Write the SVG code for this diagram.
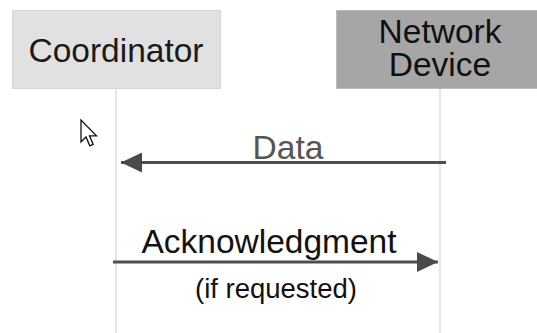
<svg xmlns="http://www.w3.org/2000/svg" width="537" height="333" viewBox="0 0 537 333">
<style>
text{font-family:"Liberation Sans",Arial,sans-serif;text-anchor:middle}
.lbl{font-size:33.5px}
.life{stroke:#d6d6d6;stroke-width:1.2;fill:none}
.msg{stroke:#4f4f4f;stroke-width:3;fill:none}
</style>
<defs>
<marker id="ah" viewBox="0 0 21 20" refX="21" refY="10" markerWidth="21" markerHeight="20" markerUnits="userSpaceOnUse" orient="auto">
<path d="M0,0 L21,10 L0,20 Z" fill="#4a4a4a"/>
</marker>
</defs>
<rect width="537" height="333" fill="#ffffff"/>
<g id="connectors">
<line class="life" x1="116" y1="89" x2="116" y2="333"/>
<line class="life" x1="440" y1="89" x2="440" y2="333"/>
<line id="data-msg" class="msg" x1="446" y1="162.5" x2="121" y2="162.5" marker-end="url(#ah)"/>
<line id="ack-msg" class="msg" x1="113" y1="262" x2="438" y2="262" marker-end="url(#ah)"/>
</g>
<g id="coordinator">
<rect x="12.5" y="10.5" width="208" height="78" fill="#e1e1e1" stroke="#d6d6d6"/>
<text class="lbl" x="116" y="62" fill="#1a1a1a">Coordinator</text>
</g>
<g id="network-device">
<rect x="336.5" y="10.5" width="203" height="78" fill="#a6a6a6" stroke="#bdbdbd"/>
<text class="lbl" fill="#111111"><tspan x="440" y="43">Network</tspan><tspan x="440" y="76">Device</tspan></text>
</g>
<g id="labels">
<text class="lbl" x="288" y="159" fill="#555555">Data</text>
<text class="lbl" x="269" y="253" fill="#111111">Acknowledgment</text>
<text x="276" y="298" font-size="27.5" fill="#111111">(if requested)</text>
</g>
<path id="cursor" d="M81,120 L81,142 L86,137 L89.8,145.8 L93.2,144.4 L89.5,135.8 L96.5,135.8 Z" fill="#ffffff" stroke="#111111" stroke-width="1.3" stroke-linejoin="miter"/>
</svg>
